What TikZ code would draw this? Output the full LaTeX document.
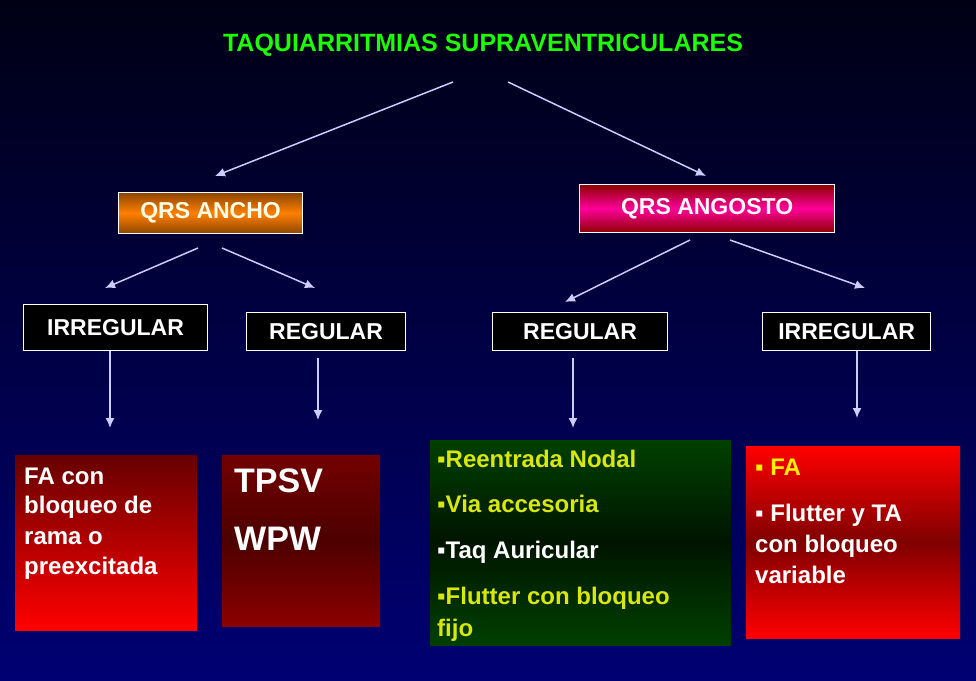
\documentclass[tikz,border=0pt]{standalone}
\usepackage{fontspec}
\setmainfont{Liberation Sans}
\usetikzlibrary{arrows.meta}
\begin{document}
\begin{tikzpicture}[x=1pt,y=-1pt,
  lab/.style={draw=white,line width=1.2pt,fill=black,inner sep=0pt,anchor=north west},
  labt/.style={text=white,font=\bfseries\fontsize{23}{26}\selectfont},
  arr/.style={draw=white!80!blue,line width=1.5pt,-{Latex[length=10pt,width=9pt]}},
  ln/.style={anchor=base west,inner sep=0pt,text=white,font=\bfseries\fontsize{24}{28}\selectfont},
  yl/.style={ln,text=yellow!85!green}]
\shade[top color=black!92!blue,bottom color=blue!45!black] (0,0) rectangle (976,680);
\useasboundingbox (0,0) rectangle (976,680);
\node[text=green!85!lime,font=\bfseries\fontsize{25}{28}\selectfont] (t) at (483,45) {TAQUIARRITMIAS SUPRAVENTRICULARES};
\coordinate (t1) at (453,82); \coordinate (t2) at (508,82);
% level 1
\node[draw=white,line width=1.2pt,minimum width=184pt,minimum height=41pt,anchor=north west,
  top color=orange!55!black,bottom color=orange!55!black,middle color=orange,
  text=white!90!yellow,font=\bfseries\fontsize{23}{26}\selectfont] (an) at (118,192) {QRS ANCHO};
\node[draw=white,line width=1.2pt,minimum width=255pt,minimum height=48pt,anchor=north west,
  top color=red!55!black,bottom color=red!55!black,middle color=magenta!60!red,
  text=white!90!pink,font=\bfseries\fontsize{23}{26}\selectfont] (ag) at (579,184) {QRS ANGOSTO};
\draw[arr] (t1) -- (215,176);
\draw[arr] (t2) -- (706,176);
% level 2
\node[lab,minimum width=184pt,minimum height=46pt] (ir1) at (23,304) {};
\node[labt] at (ir1.center) {IRREGULAR};
\node[lab,minimum width=159pt,minimum height=38pt] (re1) at (246,312) {};
\node[labt] at (re1.center) {REGULAR};
\node[lab,minimum width=175pt,minimum height=38pt] (re2) at (492,312) {};
\node[labt] at (re2.center) {REGULAR};
\node[lab,minimum width=168pt,minimum height=38pt] (ir2) at (762,312) {};
\node[labt] at (ir2.center) {IRREGULAR};
\draw[arr] (198,248) -- (105,288);
\draw[arr] (222,248) -- (315,288);
\draw[arr] (690,240) -- (565,302);
\draw[arr] (730,240) -- (865,288);
% level 3
\shade[top color=red!40!black,bottom color=red] (15,455) rectangle (197,630);
\shade[top color=red!45!black,bottom color=red!55!black,middle color=red!30!black] (222,455) rectangle (380,626);
\shade[top color=green!25!black,bottom color=green!25!black,middle color=green!8!black] (430,440) rectangle (731,645);
\shade[top color=red,bottom color=red,middle color=red!50!black] (746,446) rectangle (960,638);
\node[ln] (b1a) at (24,484) {FA con};
\node[ln] (b1b) at (24,513) {bloqueo de};
\node[ln] (b1c) at (24,544) {rama o};
\node[ln] (b1d) at (24,574) {preexcitada};
\node[ln,font=\bfseries\fontsize{34}{40}\selectfont] (b2a) at (234,492) {TPSV};
\node[ln,font=\bfseries\fontsize{34}{40}\selectfont] (b2b) at (234,550) {WPW};
\node[yl] (b3a) at (437,467) {▪Reentrada Nodal};
\node[yl] (b3b) at (437,512) {▪Via accesoria};
\node[ln] (b3c) at (437,558) {▪Taq Auricular};
\node[yl] (b3d) at (437,604) {▪Flutter con bloqueo};
\node[yl] (b3e) at (437,636) {fijo};
\node[ln,text=yellow] (b4a) at (755,475) {▪ FA};
\node[ln] (b4b) at (755,521) {▪ Flutter y TA};
\node[ln] (b4c) at (755,552) {con bloqueo};
\node[ln] (b4d) at (755,583) {variable};
\draw[arr] (ir1.south -| 110,0) -- (110,428);
\draw[arr] (318,358) -- (318,420);
\draw[arr] (573,358) -- (573,428);
\draw[arr] (ir2.south -| 857,0) -- (857,418);
\end{tikzpicture}
\end{document}
